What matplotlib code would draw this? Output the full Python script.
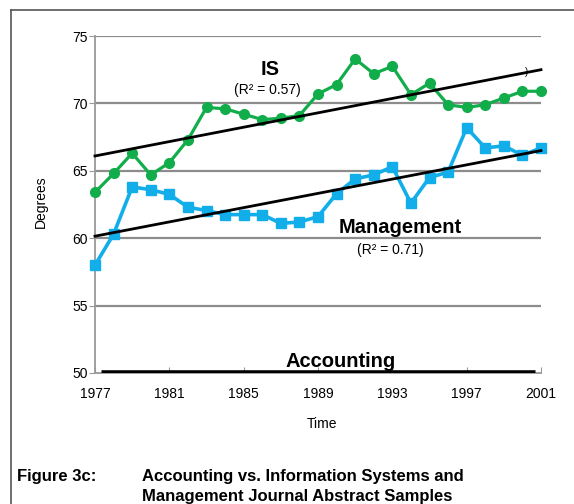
import matplotlib
matplotlib.use("Agg")
import matplotlib.pyplot as plt
from matplotlib.lines import Line2D

plt.rcParams['font.family'] = ['Liberation Sans', 'DejaVu Sans']

# data
years = list(range(1977, 2002))
is_values = [63.4, 64.8, 66.3, 64.7, 65.6, 67.3, 69.7, 69.6, 69.2, 68.8, 68.9, 69.1, 70.7,
             71.4, 73.3, 72.2, 72.75, 70.65, 71.5, 69.9, 69.7, 69.9, 70.4, 70.9, 70.9]
mgmt_values = [58.0, 60.3, 63.8, 63.6, 63.25, 62.3, 62.05, 61.75, 61.75, 61.75, 61.1, 61.2, 61.6,
               63.3, 64.4, 64.7, 65.3, 62.6, 64.5, 64.9, 68.2, 66.7, 66.85, 66.15, 66.7]
trend_years = [1977, 2001]
is_trend = [66.1, 72.5]
mgmt_trend = [60.15, 66.5]
acct_years = [1977.3, 2000.7]
acct_values = [50.1, 50.1]
yticks = [50, 55, 60, 65, 70, 75]
xticks = [1977, 1981, 1985, 1989, 1993, 1997, 2001]

W, H = 574, 504
fig = plt.figure(figsize=(W / 100, H / 100), dpi=100)

def px(x, y):
    return x / W, 1 - y / H

ax = fig.add_axes([95 / W, 1 - 373 / H, (541 - 95) / W, (373 - 36) / H])
ax.set_xlim(1977, 2001)
ax.set_ylim(50, 75)

grid_c = '#8c8c8c'
for v in yticks[1:]:
    ax.axhline(v, color=grid_c, lw=1.6, zorder=1)

green = '#12ad4b'
blue = '#12aeea'
ax.plot(years, is_values, color=green, lw=2.3, marker='o', ms=7, zorder=3, clip_on=False)
ax.plot(years, mgmt_values, color=blue, lw=2.6, marker='s', ms=6.5, zorder=3, clip_on=False)
ax.plot(trend_years, is_trend, color='black', lw=2, zorder=4, clip_on=False)
ax.plot(trend_years, mgmt_trend, color='black', lw=2, zorder=4, clip_on=False)
ax.plot(acct_years, acct_values, color='black', lw=3.3, zorder=5, solid_capstyle='butt')

ax.text(1986.4, 72.55, 'IS', fontsize=14.5, fontweight='bold', ha='center', va='center')
ax.text(1986.3, 71.0, '(R² = 0.57)', fontsize=10, ha='center', va='center')
ax.text(1993.4, 60.76, 'Management', fontsize=14.5, fontweight='bold', ha='center', va='center')
ax.text(1992.9, 59.1, '(R² = 0.71)', fontsize=10, ha='center', va='center')
ax.text(1990.2, 50.85, 'Accounting', fontsize=14.5, fontweight='bold', ha='center', va='center', zorder=2)
ax.text(2000.2, 72.3, ')', fontsize=7, ha='center', va='center')

for s in ['top', 'right']:
    ax.spines[s].set_visible(False)
for s in ['left', 'bottom']:
    ax.spines[s].set_color('#999999')
    ax.spines[s].set_linewidth(1.3)

ax.set_yticks(yticks)
ax.set_xticks(xticks)
ax.tick_params(axis='y', direction='out', length=4, color='#999999', labelsize=10, pad=1)
ax.tick_params(axis='x', direction='in', length=4, color='#999999', labelsize=10, pad=10)

fig.text(*px(41, 202), 'Degrees', rotation=90, fontsize=10, ha='center', va='center')
fig.text(*px(322, 424), 'Time', fontsize=10, ha='center', va='center')

fig.text(*px(17, 477), 'Figure 3c:', fontsize=12, fontweight='bold', ha='left', va='center')
fig.text(*px(142, 477), 'Accounting vs. Information Systems and', fontsize=12,
         fontweight='bold', ha='left', va='center')
fig.text(*px(142, 497), 'Management Journal Abstract Samples', fontsize=12,
         fontweight='bold', ha='left', va='center')

# outer frame (only top and left edges visible)
fig.add_artist(Line2D([11 / W, 1], [1 - 9.5 / H, 1 - 9.5 / H], color='#555555', lw=1.2,
                      transform=fig.transFigure))
fig.add_artist(Line2D([11 / W, 11 / W], [0, 1 - 9.5 / H], color='#555555', lw=1.2,
                      transform=fig.transFigure))

fig.savefig('out.png', dpi=100)
